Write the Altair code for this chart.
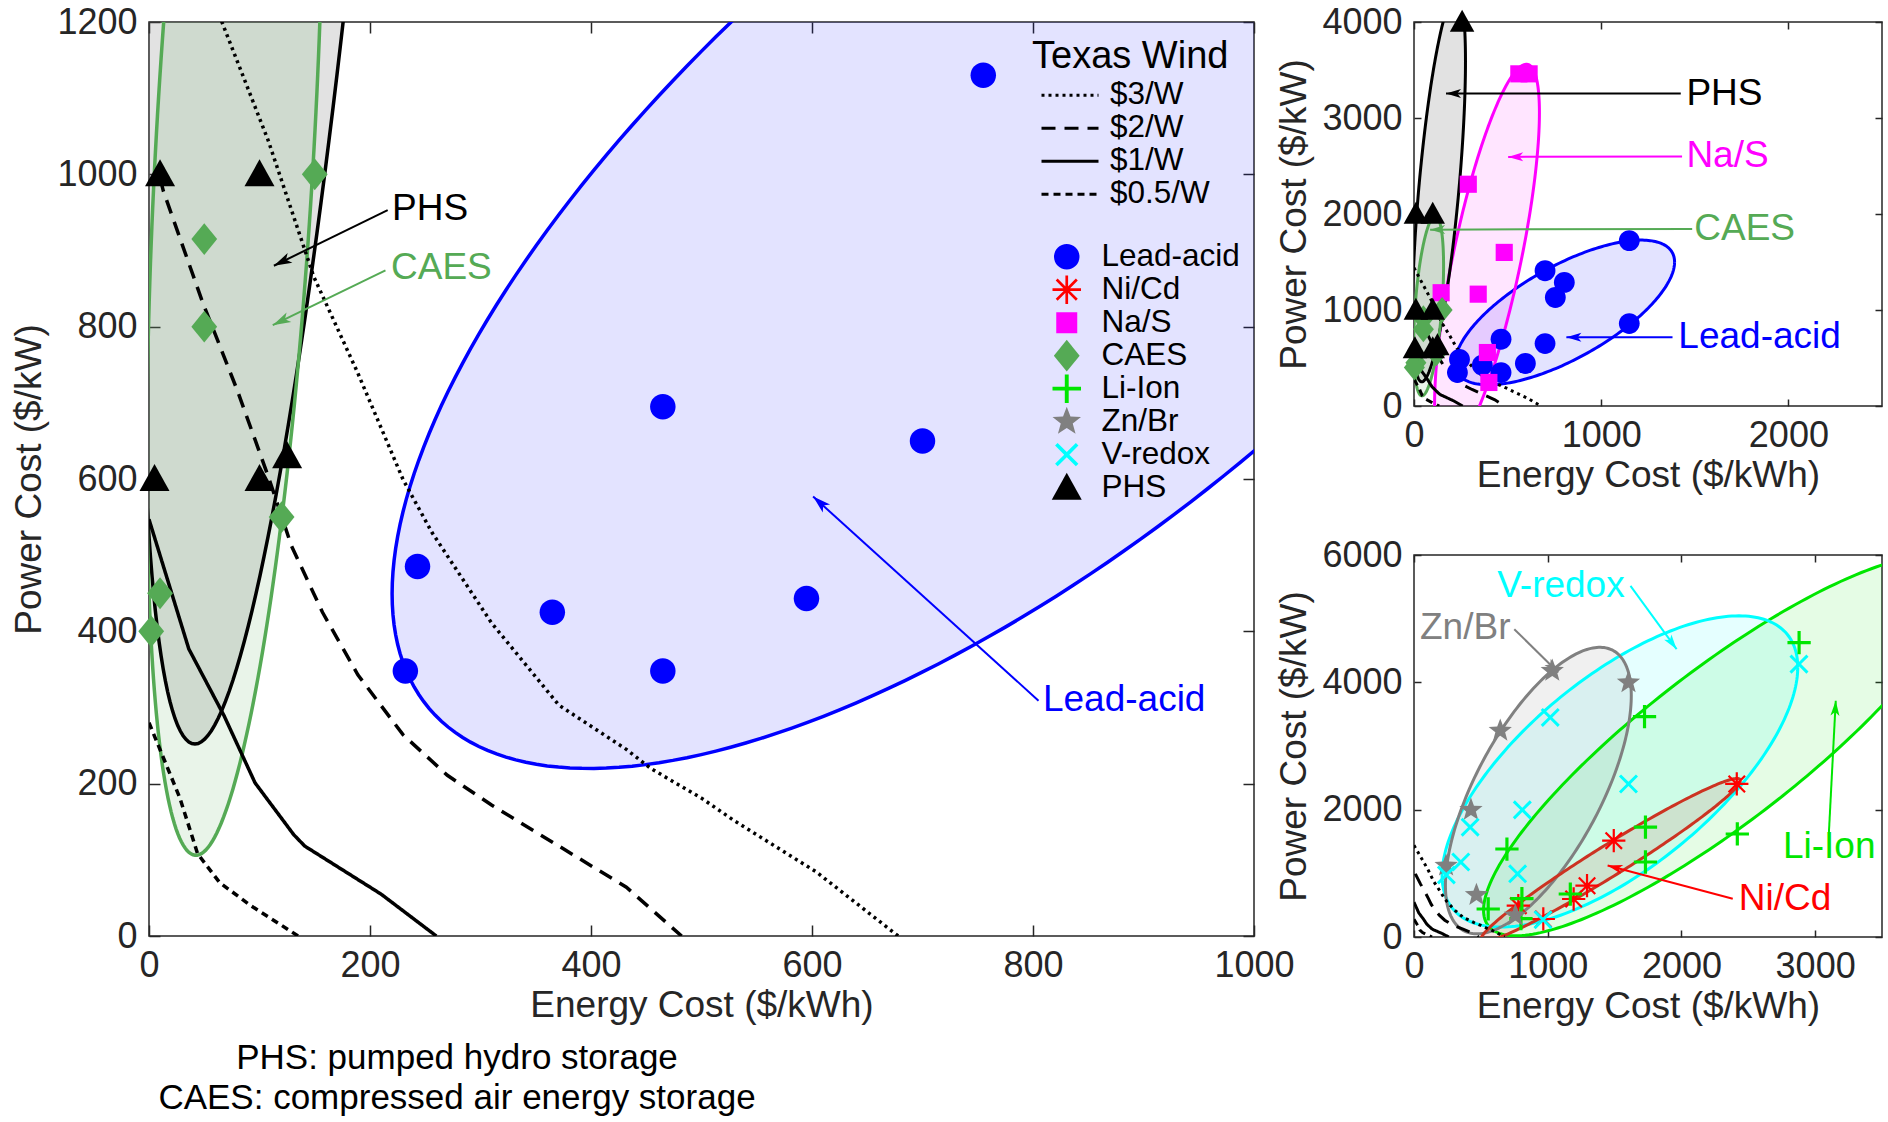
import math
import numpy as np
import pandas as pd
import altair as alt

FONT = "Liberation Sans"
AX = "#262626"

# ---------------- categories ----------------
techs = ["Lead-acid", "Ni/Cd", "Na/S", "CAES", "Li-Ion", "Zn/Br", "V-redox", "PHS"]
tech_colors = ["#0000ff", "#ff0000", "#ff00ff", "#55aa55", "#00e600", "#808080", "#00ffff", "#000000"]

# ---------------- storage cost points ($/kWh, $/kW) ----------------
lead_x = [755, 465, 700, 243, 365, 595, 232, 465, 1150, 700, 803, 1150]
lead_y = [1130, 695, 650, 485, 425, 443, 348, 348, 1722, 1409, 1287, 859]
caes_x = [150, 50, 50, 120, 10, 2]
caes_y = [1000, 915, 800, 550, 450, 400]
phs_x = [10, 100, 5, 100, 125, 10, 100, 257]
phs_y = [1000, 1000, 600, 600, 630, 2000, 2000, 4000]
nas_x = [560, 615, 290, 482, 343, 145, 392, 400]
nas_y = [3460, 3460, 2310, 1600, 1165, 1180, 557, 245]
nicd_x = [2414, 1494, 1294, 1194, 967, 780]
nicd_y = [2404, 1513, 806, 597, 283, 492]
liion_x = [2880, 1724, 1731, 2418, 1731, 695, 807, 1169, 555, 800]
liion_y = [4625, 3460, 1727, 1618, 1178, 1382, 603, 675, 440, 290]
znbr_x = [1034, 1604, 645, 426, 240, 467, 758]
znbr_y = [4181, 3998, 3240, 1997, 1120, 660, 338]
vred_x = [2879, 1019, 1604, 810, 420, 350, 242, 775, 965]
vred_y = [4286, 3449, 2404, 1997, 1725, 1177, 975, 992, 272]

point_sets = {
    "Lead-acid": (lead_x, lead_y), "Ni/Cd": (nicd_x, nicd_y), "Na/S": (nas_x, nas_y),
    "CAES": (caes_x, caes_y), "Li-Ion": (liion_x, liion_y), "Zn/Br": (znbr_x, znbr_y),
    "V-redox": (vred_x, vred_y), "PHS": (phs_x, phs_y),
}

# ---------------- Texas wind break-even curves ----------------
wind_names = ["$3/W", "$2/W", "$1/W", "$0.5/W"]
w3_x = [0, 30, 66, 108, 149, 189, 230, 256, 310, 371, 432, 454, 500, 529, 604, 678]
w3_y = [1440, 1330, 1200, 1044, 866, 739, 599, 530, 411, 303, 245, 220, 181, 152, 84, 0]
w2_x = [10, 13, 48, 80, 108, 129, 157, 189, 230, 270, 310, 371, 432, 482]
w2_y = [995, 978, 834, 716, 603, 512, 425, 343, 264, 211, 172, 118, 64, 0]
w1_x = [0, 36, 68, 96, 131, 141, 210, 260]
w1_y = [547, 377, 289, 201, 133, 118, 55, 0]
w05_x = [0, 28, 44, 64, 92, 135]
w05_y = [280, 181, 108, 70, 40, 0]
wind_sets = {"$3/W": (w3_x, w3_y), "$2/W": (w2_x, w2_y), "$1/W": (w1_x, w1_y), "$0.5/W": (w05_x, w05_y)}

# ---------------- technology regions (ellipses: centre, half-ranges, correlation) ----------------
ell_names = ["Lead-acid", "PHS", "CAES", "Na/S", "Zn/Br", "V-redox", "Li-Ion", "Ni/Cd"]
ell_cx = [806, 133.5, 78, 390, 930, 1540, 2300, 1470]
ell_cy = [974, 2276, 1043, 1540, 2300, 2600, 3000, 1210]
ell_rx = [586, 141.5, 80, 280, 695, 1330, 1780, 970]
ell_ry = [754, 2024, 937, 2020, 2250, 2444, 2980, 1280]
ell_rho = [0.696, 0.65, 0.444, 0.75, 0.662, 0.669, 0.865, 0.975]

# ---------------- annotations ----------------
main_lab = ["PHS", "CAES", "Lead-acid"]
main_tx = [220, 219, 809]
main_ty = [954, 877, 310]
main_x1 = [216, 214, 805]
main_y1 = [953, 874, 309]
main_x2 = [113, 112, 601]
main_y2 = [880, 802, 577]

tr_lab = ["PHS", "Na/S", "CAES", "Lead-acid"]
tr_tx = [1455, 1455, 1497, 1412]
tr_ty = [3255, 2600, 1845, 715]
tr_x1 = [1425, 1432, 1486, 1381]
tr_y1 = [3255, 2600, 1845, 715]
tr_x2 = [171, 503, 86, 814]
tr_y2 = [3255, 2595, 1837, 715]

br_lab = ["V-redox", "Zn/Br", "Li-Ion", "Ni/Cd"]
br_tx = [622, 45, 2759, 2429]
br_ty = [5514, 4861, 1411, 601]
br_x1 = [1619, 750, 3103, 2384]
br_y1 = [5514, 4835, 1646, 601]
br_x2 = [1964, 1079, 3154, 1448]
br_y2 = [4521, 4155, 3711, 1124]

foot_lines = ["PHS: pumped hydro storage", "CAES: compressed air energy storage"]

# ---------------- styles ----------------
label_color = {"PHS": "#000000", "CAES": "#55aa55", "Lead-acid": "#0000ff", "Na/S": "#ff00ff",
               "V-redox": "#00ffff", "Zn/Br": "#808080", "Li-Ion": "#00e600", "Ni/Cd": "#ff0000"}
ell_line = {"Lead-acid": "#0000ff", "PHS": "#000000", "CAES": "#55aa55", "Na/S": "#ff00ff",
            "Zn/Br": "#808080", "V-redox": "#00ffff", "Li-Ion": "#00e600", "Ni/Cd": "#cc3322"}
ell_fill = {"Lead-acid": ("#0000ff", 0.11), "PHS": ("#707070", 0.2), "CAES": ("#55aa55", 0.13),
            "Na/S": ("#ff00ff", 0.1), "Zn/Br": ("#808080", 0.12), "V-redox": ("#00ffff", 0.1),
            "Li-Ion": ("#00e600", 0.1), "Ni/Cd": ("#cc3322", 0.12)}
wind_dash = [[3, 4], [14, 9], [1, 0], [7, 5]]


# ---------------- marker shapes ----------------
def poly(pts):
    return "M" + "L".join(f"{x:.3f},{y:.3f}" for x, y in pts) + "Z"


def bar_cross(h, w, rot=0.0):
    pts = [(-w, -h), (w, -h), (w, -w), (h, -w), (h, w), (w, w), (w, h), (-w, h),
           (-w, w), (-h, w), (-h, -w), (-w, -w)]
    c, s = math.cos(rot), math.sin(rot)
    return poly([(x * c - y * s, x * s + y * c) for x, y in pts])


def star(ro, ri):
    pts = []
    for k in range(10):
        r = ro if k % 2 == 0 else ri
        a = math.radians(-90 + 36 * k)
        pts.append((r * math.cos(a), r * math.sin(a)))
    return poly(pts)


SHAPES = {
    "Lead-acid": "M0.85,0A0.85,0.85,0,1,1,-0.85,0A0.85,0.85,0,1,1,0.85,0Z",
    "Ni/Cd": bar_cross(0.95, 0.09) + bar_cross(0.95, 0.09, math.pi / 4),
    "Na/S": "M-0.7,-0.7L0.7,-0.7L0.7,0.7L-0.7,0.7Z",
    "CAES": "M0,-1.06L0.86,0L0,1.06L-0.86,0Z",
    "Li-Ion": bar_cross(0.95, 0.13),
    "Zn/Br": star(1.0, 0.42),
    "V-redox": bar_cross(0.98, 0.12, math.pi / 4),
    "PHS": "M0,-1L1,0.8L-1,0.8Z",
}
ARROW = "M0,0L0.3,1L0,0.75L-0.3,1Z"


def ellipse_fill_df(names):
    rows = []
    for nm in names:
        i = ell_names.index(nm)
        cx, cy, rx, ry, rho = ell_cx[i], ell_cy[i], ell_rx[i], ell_ry[i], ell_rho[i]
        s = math.sqrt(1 - rho ** 2)
        th = np.linspace(np.pi, 0, 240)
        c, sn = np.cos(th), np.sin(th)
        for xx, yu, yl in zip(cx + rx * c, cy + ry * (rho * c + s * sn), cy + ry * (rho * c - s * sn)):
            rows.append({"name": nm, "x": xx, "yu": yu, "yl": yl,
                         "fc": ell_fill[nm][0], "fo": ell_fill[nm][1]})
    return pd.DataFrame(rows)


def ellipse_line_df(names):
    rows = []
    for nm in names:
        i = ell_names.index(nm)
        cx, cy, rx, ry, rho = ell_cx[i], ell_cy[i], ell_rx[i], ell_ry[i], ell_rho[i]
        s = math.sqrt(1 - rho ** 2)
        t = np.linspace(0, 2 * np.pi, 241)
        for k, (xx, yy) in enumerate(zip(cx + rx * np.cos(t), cy + ry * (rho * np.cos(t) + s * np.sin(t)))):
            rows.append({"name": nm, "i": k, "x": xx, "y": yy, "lc": ell_line[nm]})
    return pd.DataFrame(rows)


def points_df(names, xmax, ymax):
    rows = []
    for nm in names:
        xs, ys = point_sets[nm]
        for xx, yy in zip(xs, ys):
            if xx <= xmax and yy <= ymax:
                rows.append({"tech": nm, "x": xx, "y": yy})
    return pd.DataFrame(rows)


def wind_df():
    rows = []
    for nm in wind_names:
        xs, ys = wind_sets[nm]
        for k, (xx, yy) in enumerate(zip(xs, ys)):
            rows.append({"series": nm, "i": k, "x": xx, "y": yy})
    return pd.DataFrame(rows)


def ann_df(lab, tx, ty, x1, y1, x2, y2, W, H, xmax, ymax):
    rows = []
    for a in zip(lab, tx, ty, x1, y1, x2, y2):
        dxp = (a[5] - a[3]) * W / xmax
        dyp = -(a[6] - a[4]) * H / ymax
        ang = math.degrees(math.atan2(dxp, -dyp)) % 360
        rows.append({"label": a[0], "tx": a[1], "ty": a[2], "x1": a[3], "y1": a[4],
                     "x2": a[5], "y2": a[6], "ang": ang, "col": label_color[a[0]]})
    return pd.DataFrame(rows)


def panel(W, H, xmax, ymax, xt, yt, tick, ells, tnames, ann, msize, hsize, lw, wlw, main=False):
    xs = alt.Scale(domain=[0, xmax], nice=False, zero=False)
    ys = alt.Scale(domain=[0, ymax], nice=False, zero=False)
    ax_b = alt.Axis(orient="bottom", values=xt, offset=-tick, tickSize=tick, domain=False, grid=False,
                    labelPadding=12, labelFlush=False, labelOverlap=False, format="d",
                    title="Energy Cost ($/kWh)", titlePadding=4)
    ax_l = alt.Axis(orient="left", values=yt, offset=-tick, tickSize=tick, domain=False, grid=False,
                    labelPadding=12, labelFlush=False, labelOverlap=False, format="d",
                    title="Power Cost ($/kW)", titlePadding=8)
    ax_t = alt.Axis(orient="top", values=xt, offset=-tick, tickSize=tick, domain=False, grid=False,
                    labels=False, title=None)
    ax_r = alt.Axis(orient="right", values=yt, offset=-tick, tickSize=tick, domain=False, grid=False,
                    labels=False, title=None)

    layers = []
    fdf = ellipse_fill_df(ells)
    layers.append(alt.Chart(fdf).mark_area(clip=True, strokeWidth=0).encode(
        x=alt.X("x:Q", scale=xs, axis=ax_b),
        y=alt.Y("yu:Q", scale=ys, axis=ax_l, stack=None),
        y2="yl:Q",
        fill=alt.Fill("fc:N", scale=None),
        fillOpacity=alt.FillOpacity("fo:Q", scale=None),
        detail="name:N"))
    ldf = ellipse_line_df(ells)
    layers.append(alt.Chart(ldf).mark_line(clip=True, strokeWidth=lw).encode(
        x=alt.X("x:Q", scale=xs, axis=ax_t),
        y=alt.Y("y:Q", scale=ys, axis=ax_r),
        stroke=alt.Stroke("lc:N", scale=None),
        detail="name:N", order="i:Q"))

    if main:
        wleg = alt.Legend(title="Texas Wind", orient="none", legendX=883, legendY=15.6,
                          titleFontSize=38, titleFontWeight="normal", titleColor="black", titleLimit=400,
                          labelFontSize=31.5, labelColor="black", symbolType="stroke",
                          symbolSize=3249, symbolStrokeWidth=3, symbolStrokeColor="black",
                          symbolOffset=8, labelOffset=10, clipHeight=32.3, rowPadding=0,
                          titlePadding=3.4, padding=0)
        sleg = alt.Legend(title=None, orient="none", legendX=902, legendY=218.4,
                          labelFontSize=31.5, labelColor="black", symbolSize=900,
                          symbolStrokeWidth=0, symbolOpacity=1, labelOffset=19,
                          clipHeight=32.5, rowPadding=0, padding=0)
        sd = alt.StrokeDash("series:N", scale=alt.Scale(domain=wind_names, range=wind_dash), legend=wleg)
        col = alt.Color("tech:N", scale=alt.Scale(domain=techs, range=tech_colors), legend=sleg)
        shp = alt.Shape("tech:N", scale=alt.Scale(domain=techs, range=[SHAPES[t] for t in techs]), legend=sleg)
    else:
        sd = alt.StrokeDash("series:N", scale=alt.Scale(domain=wind_names, range=wind_dash), legend=None)
        col = alt.Color("tech:N", scale=alt.Scale(domain=techs, range=tech_colors), legend=None)
        shp = alt.Shape("tech:N", scale=alt.Scale(domain=techs, range=[SHAPES[t] for t in techs]), legend=None)

    layers.append(alt.Chart(wind_df()).mark_line(clip=True, strokeWidth=wlw, color="black").encode(
        x=alt.X("x:Q", scale=xs, axis=None), y=alt.Y("y:Q", scale=ys, axis=None),
        strokeDash=sd, order="i:Q"))

    pdf = points_df(tnames, xmax, ymax)
    layers.append(alt.Chart(pdf).mark_point(filled=True, size=msize, opacity=1, strokeWidth=0).encode(
        x=alt.X("x:Q", scale=xs, axis=None), y=alt.Y("y:Q", scale=ys, axis=None),
        color=col, shape=shp))

    adf = ann_df(*ann, W, H, xmax, ymax)
    layers.append(alt.Chart(adf).mark_rule(strokeWidth=2).encode(
        x=alt.X("x1:Q", scale=xs, axis=None), y=alt.Y("y1:Q", scale=ys, axis=None),
        x2="x2:Q", y2="y2:Q", stroke=alt.Stroke("col:N", scale=None)))
    layers.append(alt.Chart(adf).mark_point(filled=True, size=hsize, opacity=1, strokeWidth=0,
                                            shape=ARROW).encode(
        x=alt.X("x2:Q", scale=xs, axis=None), y=alt.Y("y2:Q", scale=ys, axis=None),
        angle=alt.Angle("ang:Q", scale=None), fill=alt.Fill("col:N", scale=None)))
    layers.append(alt.Chart(adf).mark_text(align="left", baseline="middle", fontSize=37, font=FONT).encode(
        x=alt.X("tx:Q", scale=xs, axis=None), y=alt.Y("ty:Q", scale=ys, axis=None),
        text="label:N", fill=alt.Fill("col:N", scale=None)))

    if main:
        for k, line in enumerate(foot_lines):
            layers.append(alt.Chart(pd.DataFrame({"t": [line]})).mark_text(
                align="center", baseline="middle", fontSize=35, font=FONT, color="black").encode(
                x=alt.value(308), y=alt.value(1036 + 40 * k), text="t:N"))

    return alt.layer(*layers).properties(width=W, height=H)


main_chart = panel(1105, 914, 1000, 1200, [0, 200, 400, 600, 800, 1000],
                   [0, 200, 400, 600, 800, 1000, 1200], 11,
                   ["Lead-acid", "PHS", "CAES"], ["Lead-acid", "CAES", "PHS"],
                   (main_lab, main_tx, main_ty, main_x1, main_y1, main_x2, main_y2),
                   900, 1296, 3.5, 3.5, main=True)
tr_chart = panel(468, 384, 2500, 4000, [0, 1000, 2000], [0, 1000, 2000, 3000, 4000], 7,
                 ["Lead-acid", "Na/S", "PHS", "CAES"], ["Lead-acid", "Na/S", "CAES", "PHS"],
                 (tr_lab, tr_tx, tr_ty, tr_x1, tr_y1, tr_x2, tr_y2), 600, 900, 3, 3)
br_chart = panel(468, 382, 3500, 6000, [0, 1000, 2000, 3000], [0, 2000, 4000, 6000], 7,
                 ["Li-Ion", "V-redox", "Zn/Br", "Ni/Cd"], ["Ni/Cd", "Li-Ion", "Zn/Br", "V-redox"],
                 (br_lab, br_tx, br_ty, br_x1, br_y1, br_x2, br_y2), 600, 900, 3, 3)

right_col = alt.vconcat(tr_chart, br_chart, spacing=42)

chart = alt.hconcat(main_chart, right_col, spacing=-20).resolve_scale(
    color="independent", shape="independent", strokeDash="independent"
).properties(
    padding={"left": 10, "top": 3, "right": 0, "bottom": 0}, background="white"
).configure(font=FONT).configure_view(stroke=AX, strokeWidth=1.5).configure_axis(
    labelFont=FONT, titleFont=FONT, labelFontSize=36, titleFontSize=37, labelColor=AX,
    titleColor=AX, tickColor=AX, tickWidth=1.5, titleFontWeight="normal"
).configure_legend(labelFont=FONT, titleFont=FONT)

chart.save("out.html", embed_options={"renderer": "svg", "actions": False})
